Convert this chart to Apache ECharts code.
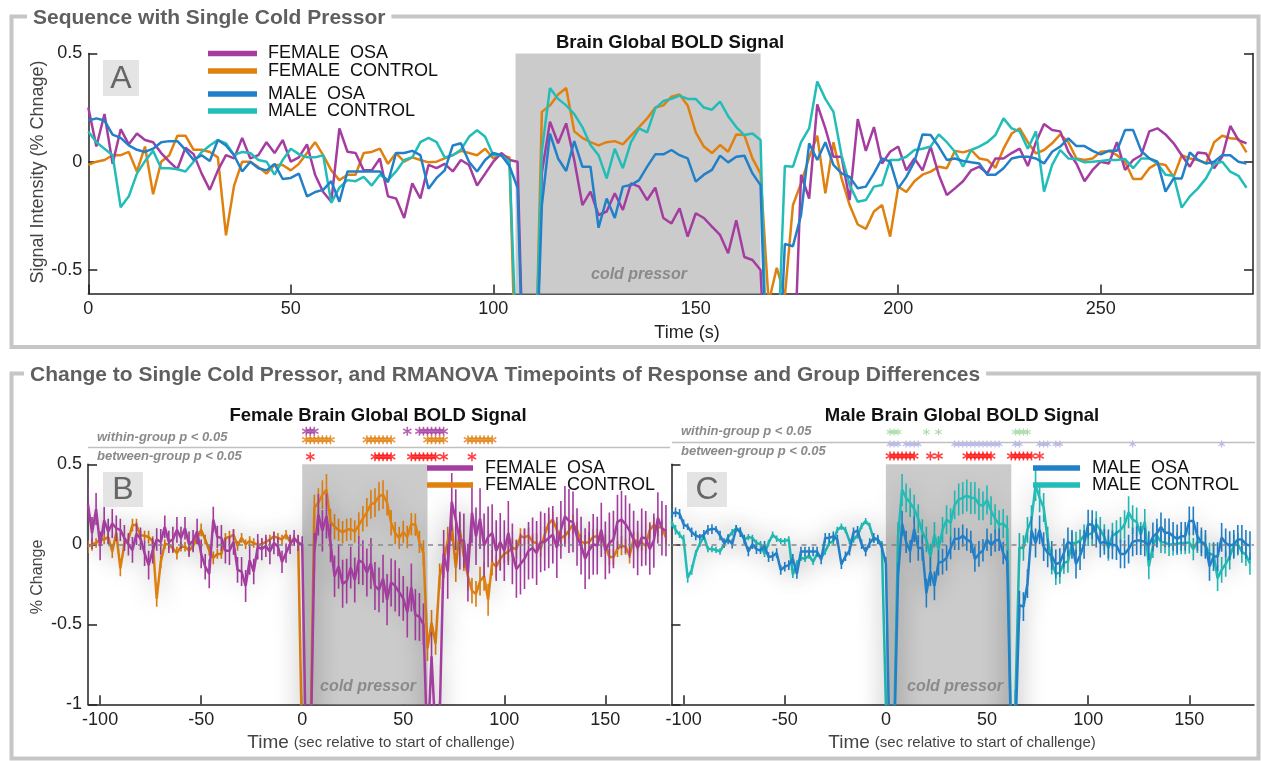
<!DOCTYPE html>
<html><head><meta charset="utf-8">
<script src="https://cdn.jsdelivr.net/npm/echarts@6/dist/echarts.min.js"></script>
<style>html,body{margin:0;padding:0;background:#fff}#c{width:1261px;height:761px}</style>
</head><body><div id="c"></div>
<script>
// ---------------- DATA ----------------
const TR = 2;                 // seconds between samples (t = 0,2,4,...)
const CHALLENGE_ONSET = 106;  // seconds: start of cold pressor in the sequence
const COLD_A = [105.5, 166];  // cold pressor period in panel A (s)
const COLD_BC = [0, 62];      // cold pressor period relative to onset

const X_TICKS_A = [0, 50, 100, 150, 200, 250];
const Y_TICKS_A = [-0.5, 0, 0.5];
const X_TICKS_BC = [-100, -50, 0, 50, 100, 150];
const Y_TICKS_BC = [-1, -0.5, 0, 0.5];

const FEMALE_OSA = [
 0.25,0.07,0.22,-0.01,0.15,0.08,0.13,0.10,0.09,0.04,
 0.0,-0.035,0.065,0.035,-0.055,-0.13,-0.04,0.03,0.015,0.11,
 0.015,0.03,0.09,0.04,0.10,0.0,0.02,0.08,-0.06,-0.14,
 -0.185,0.154,0.046,0.04,-0.04,-0.04,0.015,-0.16,-0.17,-0.26,
 -0.10,-0.17,-0.015,-0.03,-0.01,-0.045,0.008,-0.015,-0.11,-0.055,
 0.0,0.04,0.008,0.0,-1.4,-1.4,-0.05,0.185,0.085,0.177,
 0.008,-0.2,-0.138,-0.246,-0.23,-0.146,-0.223,-0.1,-0.115,-0.177,
 -0.12,-0.26,-0.285,-0.215,-0.346,-0.238,-0.26,-0.3,-0.338,-0.423,
 -0.27,-0.44,-0.454,-0.5,-1.3,-0.7,-1.2,-1.1,-0.06,-0.17,
 0.265,0.154,0.023,0.023,-0.177,0.197,0.05,0.16,-0.008,0.046,
 0.07,-0.04,0.015,-0.04,0.07,-0.06,-0.154,-0.123,-0.09,-0.04,
 -0.023,-0.054,0.015,0.015,0.04,0.06,-0.02,0.09,0.174,0.146,
 0.14,0.046,-0.008,-0.09,-0.038,0.0,-0.008,0.09,-0.038,0.008,
 0.03,0.14,0.154,0.126,0.085,0.03,-0.023,0.043,0.038,-0.03,
 0.023,0.165,0.1,0.085];
const FEMALE_CONTROL = [
 -0.015,0.0,0.008,0.03,0.03,0.045,-0.045,0.07,-0.15,0.0,
 0.03,0.12,0.12,0.055,0.055,0.045,0.02,-0.34,-0.11,0.0,
 0.0,-0.025,-0.055,-0.015,-0.015,-0.04,-0.01,0.04,0.09,0.03,
 -0.04,-0.085,-0.06,-0.06,0.04,0.045,0.06,-0.01,0.04,0.0,
 0.02,0.008,-0.003,0.0,0.015,0.03,0.05,0.04,0.03,0.06,
 0.015,0.03,0.02,-1.3,-1.4,-1.3,0.23,0.26,0.31,0.34,
 0.14,0.11,0.09,0.075,0.09,0.095,0.08,0.12,0.16,0.2,
 0.25,0.26,0.3,0.31,0.26,0.135,0.07,0.04,0.077,0.046,
 0.126,0.123,0.015,-0.055,-0.65,-0.49,-0.62,-0.2,-0.1,0.02,
 0.12,-0.146,0.09,-0.077,-0.2,-0.29,-0.31,-0.23,-0.2,-0.346,
 -0.115,-0.14,-0.09,-0.06,-0.046,-0.023,-0.03,0.05,0.043,0.054,
 0.015,0.008,-0.028,0.06,0.13,0.154,0.09,0.038,0.054,0.085,
 0.126,0.09,0.015,0.008,0.015,0.046,0.05,0.03,0.0,-0.08,
 -0.08,-0.03,-0.008,-0.015,-0.07,0.03,0.015,0.008,-0.008,0.09,
 0.12,0.108,0.105,0.043];
const MALE_OSA = [
 0.19,0.2,0.19,0.125,0.11,0.075,0.055,0.045,0.06,0.09,
 0.095,0.095,0.055,0.008,0.03,0.003,0.10,0.075,0.03,-0.045,
 0.0,-0.03,-0.04,-0.01,-0.08,-0.075,-0.055,-0.16,-0.14,-0.13,
 -0.09,-0.185,-0.045,-0.045,-0.045,-0.045,-0.045,-0.095,0.04,0.04,
 0.05,0.03,-0.125,-0.075,-0.04,0.075,0.085,0.0,-0.045,0.008,
 0.04,0.03,-0.02,-0.12,-1.4,-1.3,-0.2,0.13,0.015,-0.043,
 0.095,-0.023,-0.023,-0.305,-0.17,-0.26,-0.115,-0.108,-0.085,-0.023,
 0.034,0.034,0.054,0.03,0.015,-0.092,-0.06,-0.038,0.028,-0.003,
 0.023,0.028,-0.054,-0.108,-1.3,-1.2,-0.38,-0.39,-0.246,0.085,
 0.008,0.09,-0.015,-0.054,-0.07,-0.123,-0.115,-0.054,0.015,0.0,
 -0.123,-0.07,0.0,0.126,0.123,0.07,0.008,0.015,0.003,-0.003,
 -0.008,-0.06,-0.06,-0.03,0.015,0.023,0.023,0.015,-0.008,0.046,
 0.07,0.108,0.072,0.072,0.05,0.034,0.05,0.05,0.146,0.146,
 0.05,0.015,0.0,-0.138,-0.077,-0.077,0.043,0.008,-0.008,0.0,
 0.03,0.03,0.0,-0.008];
const MALE_CONTROL = [
 0.14,0.09,0.06,0.03,-0.21,-0.16,-0.055,0.003,0.05,-0.03,
 -0.03,-0.035,-0.045,0.0,0.045,0.075,0.10,0.085,0.03,0.045,
 0.04,0.008,0.0,-0.06,0.008,0.06,0.035,0.02,0.02,0.03,
 -0.19,-0.12,-0.085,-0.09,-0.07,-0.11,-0.06,-0.085,-0.045,0.008,
 0.02,0.09,0.11,0.09,0.02,0.03,0.055,0.115,0.145,0.115,
 0.03,0.03,0.0,-1.0,-1.4,-1.2,0.05,0.34,0.29,0.26,
 0.22,0.16,0.077,0.03,-0.077,0.06,-0.03,0.09,0.154,0.135,
 0.246,0.28,0.29,0.305,0.29,0.29,0.25,0.24,0.277,0.21,
 0.16,0.123,0.13,0.1,-1.3,-1.0,-0.02,-0.023,0.09,0.154,
 0.37,0.29,0.23,0.03,-0.108,-0.185,-0.177,-0.115,-0.108,0.008,
 0.008,0.023,0.054,0.06,0.07,0.126,0.09,0.046,-0.023,0.054,
 0.07,0.09,0.123,0.2,0.154,0.14,0.06,0.14,-0.138,-0.015,
 0.054,0.015,0.012,-0.003,0.0,0.003,0.008,0.008,0.012,-0.03,
 0.015,0.015,-0.008,-0.06,-0.065,-0.212,-0.16,-0.123,-0.077,-0.008,
 0.0,-0.046,-0.065,-0.12];

// standard errors (panels B, C)
const SE_FEMALE_OSA = [
 0.11,0.10,0.10,0.09,0.09,0.08,0.09,0.08,0.07,0.08,
 0.07,0.08,0.07,0.07,0.08,0.09,0.08,0.07,0.08,0.07,
 0.07,0.08,0.08,0.07,0.07,0.08,0.07,0.08,0.09,0.08,
 0.09,0.08,0.07,0.08,0.08,0.09,0.08,0.08,0.09,0.10,
 0.09,0.08,0.08,0.07,0.07,0.08,0.07,0.06,0.07,0.06,
 0.06,0.05,0.05,0.05,0.10,0.10,0.12,0.13,0.13,0.14,
 0.12,0.13,0.14,0.15,0.14,0.13,0.14,0.15,0.14,0.15,
 0.16,0.15,0.14,0.15,0.16,0.15,0.16,0.15,0.14,0.16,
 0.15,0.16,0.15,0.13,0.12,0.15,0.14,0.12,0.15,0.17,
 0.18,0.19,0.18,0.17,0.18,0.19,0.18,0.19,0.20,0.19,
 0.18,0.19,0.18,0.19,0.20,0.19,0.18,0.19,0.19,0.18,
 0.19,0.20,0.19,0.18,0.19,0.18,0.19,0.18,0.19,0.20,
 0.19,0.18,0.18,0.19,0.18,0.19,0.18,0.17,0.18,0.19,
 0.18,0.17,0.18,0.18,0.17,0.18,0.17,0.18,0.17,0.16,
 0.17,0.16,0.17,0.16];
const SE_FEMALE_CONTROL = [
 0.04,0.04,0.03,0.04,0.03,0.04,0.04,0.03,0.05,0.04,
 0.03,0.04,0.04,0.03,0.03,0.04,0.03,0.05,0.04,0.03,
 0.03,0.03,0.04,0.03,0.03,0.03,0.03,0.04,0.04,0.03,
 0.03,0.04,0.03,0.03,0.03,0.04,0.03,0.03,0.03,0.03,
 0.03,0.03,0.03,0.03,0.03,0.03,0.03,0.03,0.03,0.03,
 0.03,0.03,0.04,0.06,0.08,0.08,0.08,0.09,0.09,0.10,
 0.08,0.08,0.07,0.07,0.07,0.07,0.07,0.08,0.08,0.09,
 0.09,0.09,0.09,0.09,0.08,0.08,0.07,0.07,0.07,0.07,
 0.07,0.07,0.07,0.08,0.08,0.08,0.07,0.08,0.09,0.09,
 0.10,0.09,0.10,0.09,0.09,0.08,0.08,0.09,0.09,0.10,
 0.08,0.07,0.07,0.06,0.06,0.06,0.06,0.05,0.05,0.05,
 0.05,0.06,0.05,0.05,0.06,0.05,0.05,0.06,0.05,0.05,
 0.06,0.05,0.05,0.05,0.06,0.05,0.05,0.05,0.06,0.05,
 0.05,0.05,0.06,0.05,0.05,0.05,0.06,0.05,0.05,0.05,
 0.05,0.06,0.05,0.05];
const SE_MALE_OSA = [
 0.03,0.03,0.03,0.03,0.02,0.03,0.03,0.02,0.03,0.03,
 0.03,0.02,0.03,0.03,0.03,0.03,0.02,0.03,0.03,0.03,
 0.03,0.03,0.02,0.03,0.03,0.03,0.03,0.03,0.03,0.03,
 0.03,0.03,0.03,0.03,0.03,0.03,0.03,0.03,0.03,0.03,
 0.03,0.03,0.03,0.03,0.03,0.03,0.03,0.03,0.03,0.03,
 0.03,0.03,0.03,0.04,0.08,0.08,0.08,0.08,0.07,0.07,
 0.08,0.08,0.08,0.09,0.09,0.09,0.08,0.08,0.08,0.07,
 0.07,0.07,0.07,0.07,0.07,0.08,0.08,0.07,0.07,0.07,
 0.07,0.07,0.07,0.07,0.08,0.08,0.09,0.09,0.09,0.09,
 0.09,0.09,0.09,0.09,0.09,0.09,0.09,0.09,0.09,0.09,
 0.09,0.09,0.09,0.09,0.09,0.09,0.09,0.08,0.09,0.09,
 0.09,0.09,0.09,0.09,0.09,0.09,0.09,0.09,0.09,0.09,
 0.09,0.09,0.09,0.09,0.09,0.09,0.09,0.09,0.09,0.09,
 0.09,0.09,0.09,0.09,0.09,0.09,0.09,0.09,0.09,0.09,
 0.09,0.09,0.09,0.09];
const SE_MALE_CONTROL = [
 0.03,0.03,0.02,0.03,0.03,0.03,0.02,0.02,0.02,0.02,
 0.02,0.02,0.02,0.02,0.02,0.02,0.02,0.02,0.02,0.02,
 0.02,0.02,0.02,0.02,0.02,0.02,0.02,0.02,0.02,0.02,
 0.02,0.02,0.02,0.02,0.02,0.02,0.02,0.02,0.02,0.02,
 0.02,0.02,0.02,0.02,0.02,0.02,0.02,0.02,0.02,0.02,
 0.02,0.02,0.02,0.04,0.08,0.08,0.09,0.10,0.09,0.09,
 0.09,0.09,0.08,0.08,0.08,0.08,0.08,0.08,0.09,0.09,
 0.09,0.10,0.10,0.10,0.10,0.10,0.10,0.09,0.09,0.09,
 0.09,0.09,0.09,0.08,0.08,0.09,0.09,0.08,0.08,0.09,
 0.10,0.09,0.09,0.08,0.08,0.07,0.07,0.07,0.07,0.07,
 0.07,0.07,0.07,0.07,0.08,0.08,0.08,0.08,0.08,0.08,
 0.08,0.08,0.09,0.10,0.09,0.09,0.08,0.08,0.08,0.07,
 0.07,0.07,0.07,0.07,0.07,0.07,0.07,0.07,0.07,0.07,
 0.07,0.07,0.07,0.07,0.07,0.08,0.08,0.08,0.08,0.07,
 0.07,0.07,0.07,0.07];

// significance time points (s relative to onset)
const B_WITHIN_OSA = [2,4,6,52,58,60,62,64,66,68,70];
const B_WITHIN_CONTROL = [2,4,6,8,10,12,14,32,34,36,38,40,42,44,62,64,66,68,70,82,84,86,88,90,92,94];
const B_BETWEEN = [4,36,38,40,42,44,54,56,58,60,62,64,66,70,84];
const C_WITHIN_CONTROL = [2,4,6,20,26,64,66,68,70];
const C_WITHIN_OSA = [2,4,6,10,12,14,16,34,36,38,40,42,44,46,48,50,52,54,56,64,66,76,78,80,84,86,122,166];
const C_BETWEEN = [2,4,6,8,10,12,14,22,26,40,42,44,46,48,50,52,62,64,66,68,70,72,76];

// ---------------- STYLE ----------------
const FONT = 'Liberation Sans, Arial, Helvetica, sans-serif';
const C_FOSA = '#a53ca0', C_FCON = '#e0800f', C_MOSA = '#2180c8', C_MCON = '#22bdb8';
const AX = '#222';
const ASTERISK = 'path://M4.2,0h1.6v3.6l3.1,-1.8l0.8,1.4L6.6,5l3.1,1.8l-0.8,1.4L5.8,6.4V10H4.2V6.4L1.1,8.2l-0.8,-1.4L3.4,5L0.3,3.2l0.8,-1.4l3.1,1.8z';

const TIMES = FEMALE_OSA.map((_, i) => i * TR);
const pairs = (vals, shift) => vals.map((v, i) => [TIMES[i] - shift, v]);
const errs = (vals, se, shift) => vals.map((v, i) => [TIMES[i] - shift, v - se[i], v + se[i]]);

const chart = echarts.init(document.getElementById('c'), null, {renderer: 'canvas', width: 1261, height: 761});

const grids = [
  {left: 88.3, top: 53.4, width: 1164.7, height: 240},      // A
  {left: 88, top: 464.3, width: 582, height: 240},          // B
  {left: 671.5, top: 464.3, width: 582.5, height: 240},     // C
  {left: 88, top: 427, width: 582, height: 34},             // B markers
  {left: 671.5, top: 426, width: 582.5, height: 36}         // C markers
];

function xAx(grid, min, max, ticks, show) {
  return {
    gridIndex: grid, type: 'value', min: min, max: max, show: show !== false,
    axisLine: {show: true, onZero: false, lineStyle: {color: AX, width: 1.5}},
    axisTick: {show: true, inside: true, length: 9, customValues: ticks, lineStyle: {color: AX, width: 1.5}},
    axisLabel: {show: true, customValues: ticks, fontSize: 18, color: AX, margin: 7, fontFamily: FONT},
    splitLine: {show: false}
  };
}
function yAx(grid, min, max, ticks, labels, pos) {
  return {
    gridIndex: grid, type: 'value', min: min, max: max, position: pos || 'left',
    axisLine: {show: true, onZero: false, lineStyle: {color: AX, width: 1.5}},
    axisTick: {show: true, inside: true, length: 9, customValues: ticks, lineStyle: {color: AX, width: 1.5}},
    axisLabel: {show: labels, customValues: ticks, fontSize: 18, color: AX, margin: 6, fontFamily: FONT},
    splitLine: {show: false}
  };
}

const xAxis = [
  xAx(0, 0, 287.6, X_TICKS_A),
  xAx(1, -106, 182, X_TICKS_BC),
  xAx(2, -106, 182, X_TICKS_BC),
  {gridIndex: 3, type: 'value', min: -106, max: 182, show: false},
  {gridIndex: 4, type: 'value', min: -106, max: 182, show: false}
];
const yAxis = [
  yAx(0, -0.608, 0.5, Y_TICKS_A, true),
  yAx(0, -0.608, 0.5, Y_TICKS_A, false, 'right'),
  yAx(1, -1, 0.5, Y_TICKS_BC, true),
  yAx(2, -1, 0.5, Y_TICKS_BC, false),
  {gridIndex: 3, type: 'category', data: ['between', 'sep', 'withinCON', 'withinOSA'], show: false},
  {gridIndex: 4, type: 'category', data: ['between', 'withinOSA', 'withinCON'], show: false}
];

function band(xi, yi, range, zeroLine) {
  const s = {
    type: 'line', xAxisIndex: xi, yAxisIndex: yi, data: [], z: 1, silent: true,
    markArea: {silent: true, itemStyle: {color: '#cbcbcb'}, data: [[{xAxis: range[0]}, {xAxis: range[1]}]]}
  };
  if (zeroLine) s.markLine = {silent: true, symbol: 'none', label: {show: false},
    lineStyle: {color: '#8a8a8a', type: [5, 5], width: 1.5}, data: [{yAxis: 0}]};
  return s;
}
function lineA(vals, color) {
  return {type: 'line', xAxisIndex: 0, yAxisIndex: 0, data: pairs(vals, 0), showSymbol: false, symbol: 'none',
    clip: true, z: 3, lineStyle: {color: color, width: 2.5}, itemStyle: {color: color}};
}
function lineBC(vals, color, xi, yi, z) {
  return {type: 'line', xAxisIndex: xi, yAxisIndex: yi, data: pairs(vals, CHALLENGE_ONSET), showSymbol: false,
    symbol: 'none', clip: true, z: z,
    lineStyle: {color: color, width: 2.5, shadowBlur: 24, shadowColor: 'rgba(0,0,0,0.38)'}, itemStyle: {color: color}};
}
function errBC(vals, se, color, xi, yi, z) {
  return {type: 'custom', xAxisIndex: xi, yAxisIndex: yi, data: errs(vals, se, CHALLENGE_ONSET), clip: true, z: z,
    encode: {x: 0, y: [1, 2]},
    renderItem: function (params, api) {
      const a = api.coord([api.value(0), api.value(1)]);
      const b = api.coord([api.value(0), api.value(2)]);
      return {type: 'line', shape: {x1: a[0], y1: a[1], x2: b[0], y2: b[1]},
        style: {stroke: color, lineWidth: 1.6}};
    }};
}
function marks(times, row, color, xi, yi, size) {
  return {type: 'scatter', xAxisIndex: xi, yAxisIndex: yi, data: times.map(t => [t, row]),
    symbol: ASTERISK, symbolSize: size, itemStyle: {color: color}, z: 5, silent: true};
}

const series = [
  band(0, 0, COLD_A, false),
  lineA(FEMALE_CONTROL, C_FCON),
  lineA(FEMALE_OSA, C_FOSA),
  lineA(MALE_CONTROL, C_MCON),
  lineA(MALE_OSA, C_MOSA),

  band(1, 2, COLD_BC, true),
  errBC(FEMALE_CONTROL, SE_FEMALE_CONTROL, C_FCON, 1, 2, 2),
  lineBC(FEMALE_CONTROL, C_FCON, 1, 2, 3),
  errBC(FEMALE_OSA, SE_FEMALE_OSA, C_FOSA, 1, 2, 4),
  lineBC(FEMALE_OSA, C_FOSA, 1, 2, 5),

  band(2, 3, COLD_BC, true),
  errBC(MALE_CONTROL, SE_MALE_CONTROL, C_MCON, 2, 3, 2),
  lineBC(MALE_CONTROL, C_MCON, 2, 3, 3),
  errBC(MALE_OSA, SE_MALE_OSA, C_MOSA, 2, 3, 4),
  lineBC(MALE_OSA, C_MOSA, 2, 3, 5),

  marks(B_WITHIN_OSA, 'withinOSA', C_FOSA, 3, 4, 9),
  marks(B_WITHIN_CONTROL, 'withinCON', C_FCON, 3, 4, 9),
  marks(B_BETWEEN, 'between', '#ff1010', 3, 4, 9),
  marks(C_WITHIN_CONTROL, 'withinCON', '#9ad89a', 4, 5, 7),
  marks(C_WITHIN_OSA, 'withinOSA', '#a6a6ee', 4, 5, 7),
  marks(C_BETWEEN, 'between', '#ff1010', 4, 5, 9)
];

// ---------------- DECORATION ----------------
function txt(x, y, text, font, fill, align, extra) {
  const st = Object.assign({x: x, y: y, text: text, font: font, fill: fill,
    textAlign: align || 'left', textVerticalAlign: 'middle', align: align || 'left', verticalAlign: 'middle'}, extra || {});
  return {type: 'text', z: 100, silent: true, style: st};
}
function seg(x1, y1, x2, y2, color, w) {
  return {type: 'line', z: 100, silent: true, shape: {x1: x1, y1: y1, x2: x2, y2: y2}, style: {stroke: color, lineWidth: w}};
}
function box(x, y, w, h, letter) {
  return [
    {type: 'rect', z: 99, silent: true, shape: {x: x, y: y, width: w, height: h}, style: {fill: '#e4e4e4'}},
    txt(x + w / 2, y + h / 2 + 1, letter, '32px ' + FONT, '#666', 'center')
  ];
}
const titleFont = 'bold 21px ' + FONT;
const panelTitleFont = 'bold 18.5px ' + FONT;
const noteFont = 'italic bold 13px ' + FONT;
const richTime = {a: {fontSize: 19, fontFamily: FONT, fill: '#444', color: '#444'}, b: {fontSize: 15, fontFamily: FONT, fill: '#444', color: '#444'}};
const graphic = [
  {type: 'rect', z: 90, silent: true, shape: {x: 11.5, y: 16.5, width: 1247, height: 330.5}, style: {fill: 'none', stroke: '#c6c6c6', lineWidth: 4}},
  {type: 'rect', z: 90, silent: true, shape: {x: 11.5, y: 373.5, width: 1247, height: 385}, style: {fill: 'none', stroke: '#c6c6c6', lineWidth: 4}},
  txt(27, 18, 'Sequence with Single Cold Pressor', titleFont, '#5f5f5f', 'left', {backgroundColor: '#fff', padding: [2, 6, 2, 6]}),
  txt(24, 375, 'Change to Single Cold Pressor, and RMANOVA Timepoints of Response and Group Differences', titleFont, '#5f5f5f', 'left', {backgroundColor: '#fff', padding: [2, 6, 2, 6]}),

  // panel A
  txt(670, 43, 'Brain Global BOLD Signal', panelTitleFont, '#111', 'center'),
  txt(639, 275, 'cold pressor', 'italic bold 16px ' + FONT, '#8a8a8a', 'center'),
  txt(687, 333, 'Time (s)', '18px ' + FONT, '#222', 'center'),
  {type: 'text', z: 100, silent: true, x: 38, y: 172, rotation: Math.PI / 2,
    style: {x: 0, y: 0, text: 'Signal Intensity (% Chnage)', font: '18px ' + FONT, fill: '#444',
      textAlign: 'center', textVerticalAlign: 'middle', align: 'center', verticalAlign: 'middle'}},
  ...box(103, 60, 36, 36, 'A'),
  seg(208, 53.5, 257, 53.5, C_FOSA, 5.5), txt(268, 53, 'FEMALE  OSA', '18px ' + FONT, '#111'),
  seg(208, 71, 257, 71, C_FCON, 5.5), txt(268, 71, 'FEMALE  CONTROL', '18px ' + FONT, '#111'),
  seg(208, 94, 257, 94, C_MOSA, 5.5), txt(268, 94, 'MALE  OSA', '18px ' + FONT, '#111'),
  seg(208, 111, 257, 111, C_MCON, 5.5), txt(268, 111, 'MALE  CONTROL', '18px ' + FONT, '#111'),

  // panel B
  txt(378, 416, 'Female Brain Global BOLD Signal', panelTitleFont, '#111', 'center'),
  txt(97, 437, 'within-group p < 0.05', noteFont, '#8a8a8a'),
  txt(97, 456, 'between-group p < 0.05', noteFont, '#8a8a8a'),
  seg(88, 447.5, 670, 447.5, '#c0c0c0', 1.5),
  txt(368, 687, 'cold pressor', 'italic bold 16px ' + FONT, '#8a8a8a', 'center'),
  ...box(103, 472, 40, 35, 'B'),
  seg(427, 468, 473, 468, C_FOSA, 5.5), txt(485, 468, 'FEMALE  OSA', '18px ' + FONT, '#111'),
  seg(427, 485, 473, 485, C_FCON, 5.5), txt(485, 485, 'FEMALE  CONTROL', '18px ' + FONT, '#111'),
  {type: 'text', z: 100, silent: true, x: 38, y: 577, rotation: Math.PI / 2,
    style: {x: 0, y: 0, text: '% Change', font: '16px ' + FONT, fill: '#444',
      textAlign: 'center', textVerticalAlign: 'middle', align: 'center', verticalAlign: 'middle'}},
  txt(381, 743, '{a|Time} {b|(sec relative to start of challenge)}', '18px ' + FONT, '#444', 'center', {rich: richTime}),

  // panel C
  txt(962, 416, 'Male Brain Global BOLD Signal', panelTitleFont, '#111', 'center'),
  txt(681, 431, 'within-group p < 0.05', noteFont, '#8a8a8a'),
  txt(681, 451, 'between-group p < 0.05', noteFont, '#8a8a8a'),
  seg(672, 442.5, 1255, 442.5, '#c0c0c0', 1.5),
  txt(955, 687, 'cold pressor', 'italic bold 16px ' + FONT, '#8a8a8a', 'center'),
  ...box(687, 472, 40, 35, 'C'),
  seg(1033, 468, 1080, 468, C_MOSA, 5.5), txt(1092, 468, 'MALE  OSA', '18px ' + FONT, '#111'),
  seg(1033, 485, 1080, 485, C_MCON, 5.5), txt(1092, 485, 'MALE  CONTROL', '18px ' + FONT, '#111'),
  txt(962, 743, '{a|Time} {b|(sec relative to start of challenge)}', '18px ' + FONT, '#444', 'center', {rich: richTime})
];

chart.setOption({
  animation: false,
  backgroundColor: '#fff',
  textStyle: {fontFamily: FONT},
  grid: grids, xAxis: xAxis, yAxis: yAxis, series: series, graphic: graphic
});
</script></body></html>
